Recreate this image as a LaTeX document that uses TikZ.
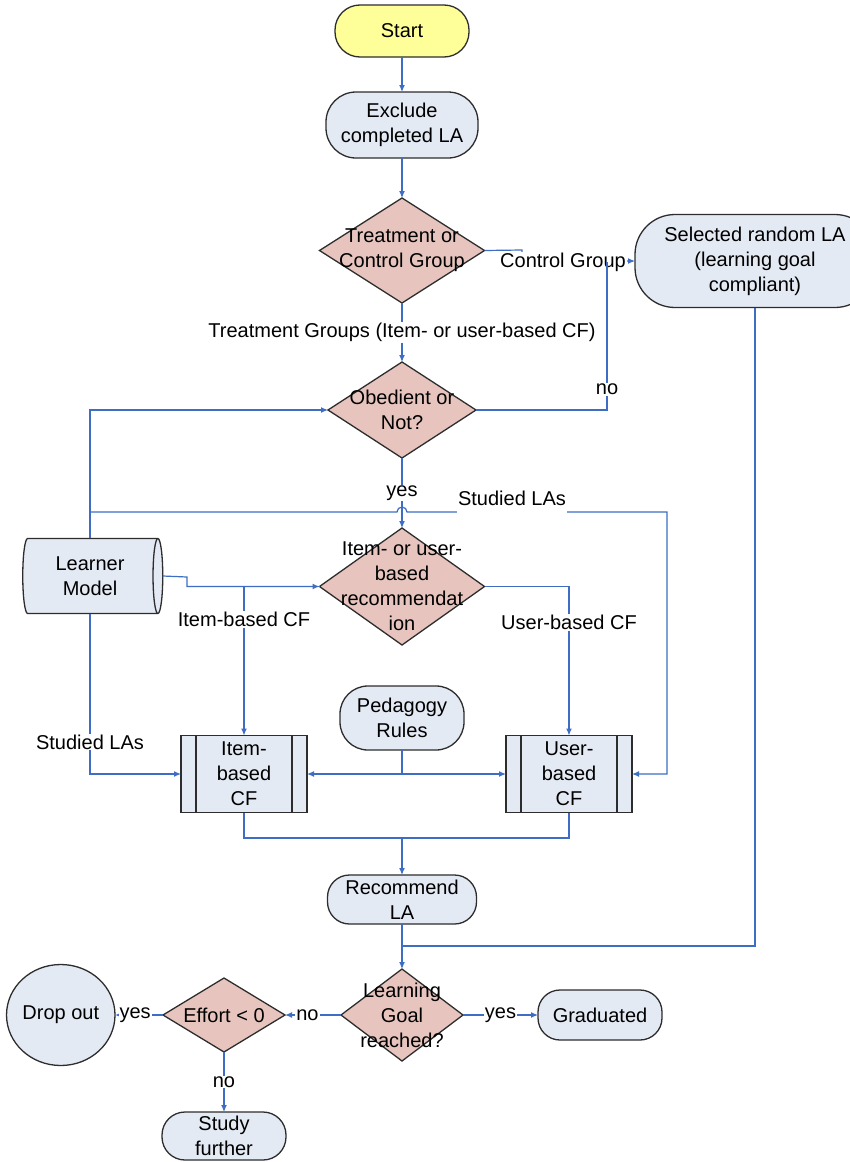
\documentclass[tikz,border=0pt]{standalone}
\usepackage{fontspec}
\setmainfont{Liberation Sans}
\usetikzlibrary{positioning,shapes.geometric,arrows.meta}

\definecolor{flowblue}{RGB}{61,110,196}
\definecolor{startfill}{RGB}{255,255,153}
\definecolor{procfill}{RGB}{228,234,244}
\definecolor{decfill}{RGB}{231,197,190}
\definecolor{edgegray}{RGB}{45,45,45}

\tikzset{
  base/.style={draw=edgegray, line width=1.3pt, align=center, inner sep=0pt, outer sep=0pt},
  term/.style={base, rectangle, rounded corners=#1, fill=procfill},
  term/.default=24pt,
  startnode/.style={term=25pt, fill=startfill},
  dropnode/.style={base, ellipse, fill=procfill},
  decision/.style={base, diamond, fill=decfill, label={[align=center]center:#1}},
  subproc/.style={base, rectangle, fill=procfill,
    path picture={
      \draw[edgegray, line width=1.3pt]
        ([xshift=15pt]path picture bounding box.north west) -- ([xshift=15pt]path picture bounding box.south west)
        ([xshift=-15pt]path picture bounding box.north east) -- ([xshift=-15pt]path picture bounding box.south east);
    }},
  store/.style={base, cylinder, aspect=0.25, fill=procfill},
  flow/.style={draw=flowblue, line width=1.2pt, -{Latex[length=7pt,width=6pt]}},
  link/.style={draw=flowblue, line width=1.2pt},
  lbl/.style={fill=white, inner sep=1pt},
}

\begin{document}
\begin{tikzpicture}[x=1pt, y=-1pt, font=\fontsize{20}{25}\selectfont]
      \path[fill=white, use as bounding box] (0,0) rectangle (849,1162);
      % Define nodes
      \node[startnode, minimum width=134pt, minimum height=52pt] (start) at (402,31) {Start};
      \node[term=30pt, minimum width=152pt, minimum height=66pt, below=35pt of start] (excl) {Exclude\\completed LA};
      \node[decision={Treatment or\\Control Group}, minimum width=165pt, minimum height=105pt, below=40pt of excl] (treat) {};
      \node[decision={Obedient or\\Not?}, minimum width=148pt, minimum height=96pt, below=59pt of treat] (obed) {};
      \node[decision={Item- or user-\\based\\recommendat\\ion}, minimum width=165pt, minimum height=117pt, below=70pt of obed] (rec) {};
      \node[term=28pt, minimum width=124pt, minimum height=64pt, below=41pt of rec] (ped) {Pedagogy\\Rules};
      \node[term=22pt, minimum width=149pt, minimum height=49pt, below=125pt of ped] (rla) {Recommend\\LA};
      \node[decision={Learning\\Goal\\reached?}, minimum width=122pt, minimum height=92pt, below=45pt of rla] (goal) {};
      \node[term=22pt, minimum width=124pt, minimum height=50pt, right=75pt of goal] (grad) {Graduated};
      \node[decision={Effort < 0}, minimum width=122pt, minimum height=74pt, left=56pt of goal] (effort) {};
      \node[dropnode, minimum width=102pt, minimum height=101pt, left=48pt of effort] (drop) {Drop out};
      \node[term=23pt, minimum width=124pt, minimum height=48pt, below=60pt of effort] (study) {Study\\further};
      \node[term=40pt, minimum width=240pt, minimum height=93pt] (sel) at (755,261) {Selected random LA\\(learning goal\\compliant)};
      \node[store, minimum width=75pt, minimum height=140pt] (lm) at (90,576) {Learner\\Model};
      \node[subproc, minimum width=126pt, minimum height=77pt] (icf) at (244,774) {Item-\\based\\CF};
      \node[subproc, minimum width=126pt, minimum height=77pt] (ucf) at (569,774) {User-\\based\\CF};
      \coordinate (cgturn) at (522,250);
      \coordinate (nojoin) at (607,262);
      \coordinate (studtop) at (90,512);
      \coordinate (studright) at (667,512);
      \coordinate (lmstep) at (187,577);
      \coordinate (merge) at (402,838);
      \coordinate (seljoin) at (402,946);
      % Connect nodes
      \draw[flow] (start) -- (excl);
      \draw[flow] (excl) -- (treat);
      \draw[flow] (treat) -- (obed) node[lbl, midway] {Treatment Groups (Item- or user-based CF)};
      \draw[flow] (treat.east) -- (cgturn) |- (sel.west);
      \node[lbl] (cglbl) at (563,262) {Control Group};
      \draw[link] (obed.east) -| (nojoin) node[lbl, pos=0.57] {no};
      \draw[flow] (lm.north) |- (obed.west);
      \draw[flow] (obed) -- (rec) node[lbl, midway] {yes};
      \draw[flow] (studtop) -- (397,512) arc[start angle=180, end angle=0, radius=5pt] -- (studright) |- (ucf.east);
      \node[lbl, anchor=base, text depth=9pt] (studlbl) at (512,505) {Studied LAs};
      \draw[flow] (lm.east) -- (lmstep) |- (rec.west);
      \draw[flow] (rec.west) -| (icf.north) node[lbl, pos=0.61] {Item-based CF};
      \draw[flow] (rec.east) -| (ucf.north) node[lbl, pos=0.62] {User-based CF};
      \draw[flow] (lm.south) |- (icf.west) node[lbl, pos=0.4] {Studied LAs};
      \draw[flow] (ped.south) |- (icf.east);
      \draw[flow] (ped.south) |- (ucf.west);
      \draw[link] (icf.south) |- (merge) -| (ucf.south);
      \draw[flow] (merge) -- (rla);
      \draw[link] (sel.south) |- (seljoin);
      \draw[flow] (rla) -- (goal);
      \draw[flow] (goal) -- (grad) node[lbl, midway] {yes};
      \draw[flow] (goal) -- (effort) node[lbl, pos=0.6] {no};
      \draw[flow] (effort) -- (drop) node[lbl, pos=0.58] {yes};
      \draw[flow] (effort) -- (study) node[lbl, midway] {no};
    \end{tikzpicture}
\end{document}
